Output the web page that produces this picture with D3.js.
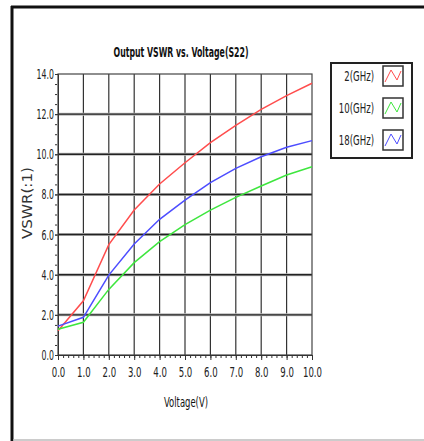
<!DOCTYPE html>
<html><head><meta charset="utf-8">
<script src="https://cdn.jsdelivr.net/npm/d3@7"></script>
<style>
html,body{margin:0;padding:0;background:#fff;}
svg text{font-family:"DejaVu Sans Condensed","DejaVu Sans",sans-serif;}
</style></head>
<body><svg id="c" width="424" height="441"></svg>
<script>
const voltages = [0,1,2,3,4,5,6,7,8,9,10];
const seriesNames = ["2(GHz)","10(GHz)","18(GHz)"];
const seriesColors = ["#ff4d4d","#3ee63e","#4d4dff"];
const vswr2 = [1.21,2.7,5.5,7.22,8.52,9.58,10.58,11.44,12.24,12.92,13.54];
const vswr10 = [1.28,1.63,3.27,4.6,5.65,6.5,7.22,7.85,8.42,8.97,9.38];
const vswr18 = [1.44,1.88,3.98,5.53,6.76,7.72,8.59,9.3,9.88,10.35,10.68];
const xTicks = [0,1,2,3,4,5,6,7,8,9,10];
const yTicks = [0,2,4,6,8,10,12,14];
const seriesValues = [vswr2, vswr10, vswr18];

const svg = d3.select("#c");
function squeeze(sel, f){
  sel.each(function(){
    const w = this.getComputedTextLength();
    d3.select(this).attr("textLength", w*f).attr("lengthAdjust","spacingAndGlyphs");
  });
}
// frame
svg.append("rect").attr("x",0).attr("y",0).attr("width",424).attr("height",441).attr("fill","#fff");
svg.append("line").attr("x1",11).attr("x2",424).attr("y1",7).attr("y2",7).attr("stroke","#111").attr("stroke-width",3);
svg.append("line").attr("x1",12).attr("x2",12).attr("y1",6).attr("y2",441).attr("stroke","#111").attr("stroke-width",3);
svg.append("line").attr("x1",13).attr("x2",424).attr("y1",440).attr("y2",440).attr("stroke","#bbb").attr("stroke-width",1.5);

const L=58, R=312, T=74, B=355;
const x = d3.scaleLinear().domain([0,10]).range([L,R]);
const y = d3.scaleLinear().domain([0,14]).range([B,T]);

// grid
const g = svg.append("g");
g.selectAll(".vg").data(xTicks.slice(1,-1)).join("line")
 .attr("x1",d=>x(d)).attr("x2",d=>x(d)).attr("y1",T).attr("y2",B)
 .attr("stroke","#333").attr("stroke-width",1.2);
g.selectAll(".hg").data(yTicks.slice(1,-1)).join("line")
 .attr("x1",L).attr("x2",R).attr("y1",d=>y(d)).attr("y2",d=>y(d))
 .attr("stroke","#bbb").attr("stroke-width",3);
g.selectAll(".hg2").data(yTicks.slice(1,-1)).join("line")
 .attr("x1",L).attr("x2",R).attr("y1",d=>y(d)).attr("y2",d=>y(d))
 .attr("stroke","#222").attr("stroke-width",1.4);
g.append("rect").attr("x",L).attr("y",T).attr("width",R-L).attr("height",B-T)
 .attr("fill","none").attr("stroke","#444").attr("stroke-width",1.2);

// axes
const xAxis = d3.axisBottom(x).tickValues(xTicks).tickFormat(d3.format(".1f")).tickSize(5).tickPadding(7);
const xg = svg.append("g").attr("transform",`translate(0,${B})`).call(xAxis);
const xMinor = d3.axisBottom(x).ticks(50).tickFormat("").tickSize(3);
svg.append("g").attr("transform",`translate(0,${B})`).call(xMinor).select(".domain").remove();
const yAxis = d3.axisLeft(y).tickValues(yTicks).tickFormat(d3.format(".1f")).tickSize(3).tickPadding(1);
const yg = svg.append("g").attr("transform",`translate(${L},0)`).call(yAxis);
const yMinor = d3.axisLeft(y).ticks(35).tickFormat("").tickSize(2);
svg.append("g").attr("transform",`translate(${L-1},0)`).call(yMinor).select(".domain").remove();
svg.selectAll(".tick line").attr("stroke","#333");
svg.selectAll(".domain").attr("stroke","#333");
xg.selectAll("text").attr("font-size",14).attr("fill","#222").call(squeeze,0.68);
yg.selectAll("text").attr("font-size",14).attr("fill","#222").call(squeeze,0.62);

// lines
const line = d3.line().x((d,i)=>x(voltages[i])).y(d=>y(d));
seriesValues.forEach((vals,k)=>{
  svg.append("path").datum(vals).attr("d",line).attr("fill","none")
   .attr("stroke",seriesColors[k]).attr("stroke-width",1.5);
});

// title & labels
svg.append("text").attr("x",181).attr("y",57).attr("text-anchor","middle")
 .attr("font-size",14.5).attr("font-weight","bold").attr("fill","#111")
 .attr("textLength",135).attr("lengthAdjust","spacingAndGlyphs")
 .text("Output VSWR vs. Voltage(S22)");
svg.append("text").attr("x",186).attr("y",407).attr("text-anchor","middle")
 .attr("font-size",14).attr("fill","#111").attr("textLength",44).attr("lengthAdjust","spacingAndGlyphs").text("Voltage(V)");
svg.append("text").attr("transform","translate(32,203) rotate(-90)").attr("text-anchor","middle")
 .attr("font-size",13.5).attr("fill","#333").attr("textLength",72).attr("lengthAdjust","spacingAndGlyphs")
 .style("font-family","DejaVu Sans").text("VSWR(:1)");

// legend
const lg = svg.append("g");
lg.append("rect").attr("x",331).attr("y",63).attr("width",81).attr("height",95)
 .attr("fill","#fff").attr("stroke","#222").attr("stroke-width",2);
const swY = [66,98,130];
seriesNames.forEach((n,k)=>{
  lg.append("text").attr("x",374).attr("y",swY[k]+15).attr("text-anchor","end")
   .attr("font-size",14).attr("fill","#222").text(n).call(squeeze,0.68);
  lg.append("rect").attr("x",383).attr("y",swY[k]).attr("width",20).attr("height",20)
   .attr("fill","#fff").attr("stroke","#333").attr("stroke-width",1.5);
  lg.append("path").attr("d",`M${385},${swY[k]+16} L${391},${swY[k]+4} L${397},${swY[k]+14} L${401},${swY[k]+5}`)
   .attr("fill","none").attr("stroke",seriesColors[k]).attr("stroke-width",1);
});
</script></body></html>
